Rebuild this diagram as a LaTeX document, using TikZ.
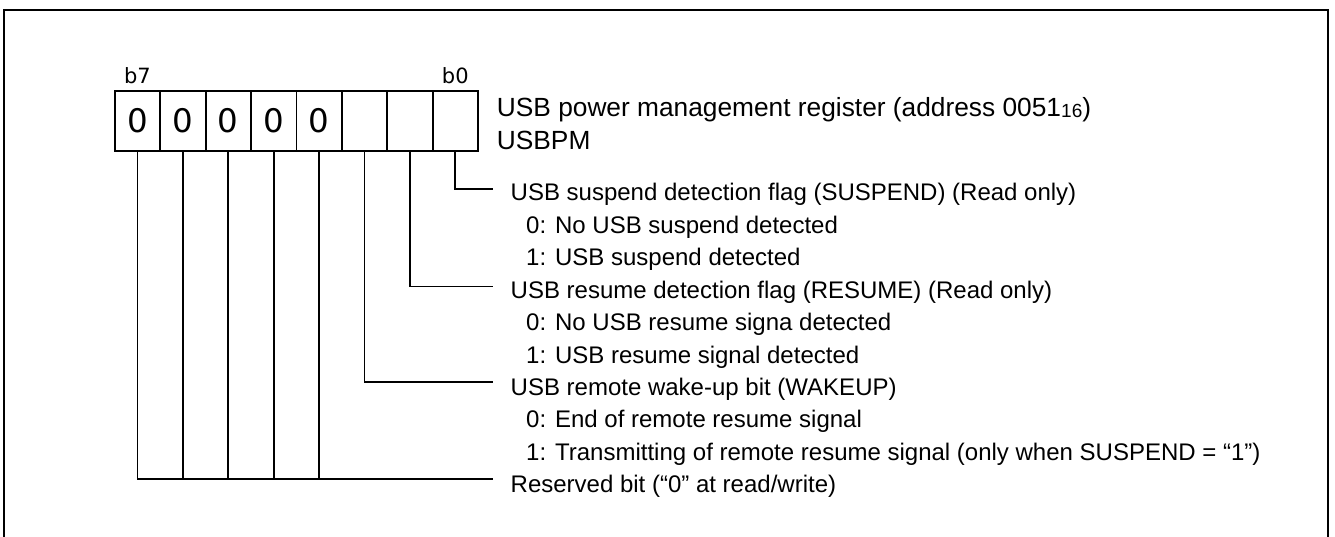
\documentclass[tikz,border=0pt]{standalone}
\usepackage{fontspec}
\setmainfont{Liberation Sans}
\newfontfamily\djv{DejaVu Sans}
\begin{document}
\begin{tikzpicture}[x=1pt,y=-1pt,
  cell/.style={draw,line width=1.8pt,minimum width=45.4pt,minimum height=60pt,inner sep=0pt,
    font=\djv\fontsize{32.5}{32.5}\selectfont},
  bitlbl/.style={anchor=base,inner sep=0pt,font=\djv\fontsize{21}{21}\selectfont},
  title/.style={anchor=base west,inner sep=0pt,font=\fontsize{26.3}{26.3}\selectfont},
  desc/.style={anchor=base west,inner sep=0pt,font=\fontsize{24}{24}\selectfont},
  leader/.style={line width=1.7pt}]
\useasboundingbox (0,0) rectangle (1335,537);
\draw[line width=2pt] (4,540) -- (4,10) -- (1328,10) -- (1328,540);
% register cells
\foreach \i/\t in {7/0,6/0,5/0,4/0,3/0,2/{},1/{},0/{}}
  \node[cell] (c\i) at ({137.5+45.4*(7-\i)},120.7) {\t};
\node[bitlbl] (b7) at (137.5,83.3) {b7};
\node[bitlbl] (b0) at (455.3,83.3) {b0};
% title
\node[title] (t1) at (496.7,116.7) {USB power management register (address 0051\raisebox{-1pt}{\fontsize{19}{19}\selectfont 16})};
\node[title] (t2) at (496.7,150) {USBPM};
% descriptions
\node[desc] (d0) at (510.5,201) {USB suspend detection flag (SUSPEND) (Read only)};
\node[desc] (d1) at (526,233.4) {0: No USB suspend detected};
\node[desc] (d2) at (526,265.8) {1: USB suspend detected};
\node[desc] (d3) at (510.5,298.2) {USB resume detection flag (RESUME) (Read only)};
\node[desc] (d4) at (526,330.6) {0: No USB resume signa detected};
\node[desc] (d5) at (526,363) {1: USB resume signal detected};
\node[desc] (d6) at (510.5,395.4) {USB remote wake-up bit (WAKEUP)};
\node[desc] (d7) at (526,427.8) {0: End of remote resume signal};
\node[desc] (d8) at (526,460.2) {1: Transmitting of remote resume signal (only when SUSPEND = “1”)};
\node[desc] (d9) at (510.5,492.6) {Reserved bit (“0” at read/write)};
% connector ends
\coordinate (e0) at (493,189);
\coordinate (e3) at (493,286.5);
\coordinate (e6) at (493,382);
\coordinate (e9) at (493,479.3);
% leaders
\draw[leader] (c0.south) |- (e0);
\draw[leader] (c1.south) |- (e3);
\draw[leader] (c2.south) |- (e6);
\draw[leader] (c7.south) |- (e9);
\foreach \i in {6,5,4,3}
  \draw[leader] (c\i.south) -- (c\i.south |- e9);
\end{tikzpicture}
\end{document}
